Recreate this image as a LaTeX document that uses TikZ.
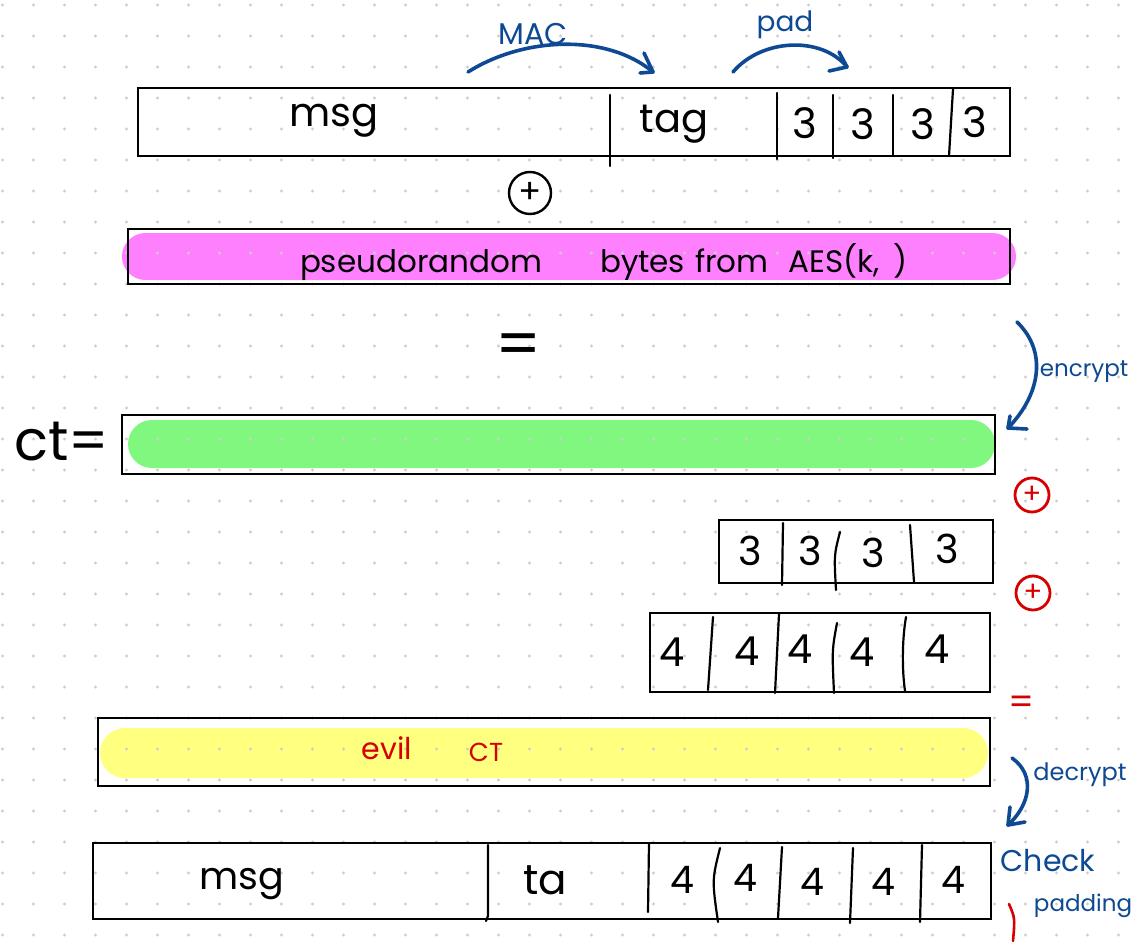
\documentclass[tikz,border=0pt]{standalone}
\usepackage{fontspec}
\setmainfont{Poppins}
\usetikzlibrary{arrows.meta}
\definecolor{pen}{RGB}{14,74,148}
\definecolor{redpen}{RGB}{214,0,0}
\definecolor{hlpink}{RGB}{255,128,255}
\definecolor{hlgreen}{RGB}{128,248,128}
\definecolor{hlyellow}{RGB}{255,255,128}
\definecolor{dotgray}{RGB}{205,205,205}
\newcommand{\fsz}[1]{\fontsize{#1}{#1}\selectfont}
\tikzset{
  frame/.style={draw=black, line width=2.2pt},
  divider/.style={black, line width=2.2pt, line cap=round},
  txt/.style={inner sep=0pt, anchor=center},
  bluepen/.style={pen, line width=3.6pt, line cap=round, line join=round},
  redstroke/.style={redpen, line width=2.6pt, line cap=round},
  xorsym/.style={draw, circle, line width=2.4pt, minimum size=42pt, inner sep=0pt, font=\fsz{34}},
  redxor/.style={draw=redpen, text=redpen, circle, line width=2.8pt, minimum size=34pt, inner sep=0pt, font=\fsz{28}},
}
\begin{document}
\begin{tikzpicture}[x=1pt,y=-1pt]
\useasboundingbox (0,0) rectangle (1135,942);
\fill[white] (0,0) rectangle (1135,942);

% highlighter strokes
\fill[hlpink, rounded corners=23.5pt] (122,233) rectangle (1016,280);
\fill[hlgreen, rounded corners=24pt] (128,420) rectangle (995,468);
\fill[hlyellow, rounded corners=25pt] (100,728) rectangle (988,778);

% dotted paper grid
\foreach \i in {0,...,36}
  \foreach \j in {0,...,30}
    \fill[dotgray] (2.5+31*\i, 5+31*\j) circle (1.6pt);

% ---- plaintext record: msg | tag | padding
\draw[frame] (138,88) rectangle (1010,156);
\draw[divider] (610,95) -- (610,166);
\draw[divider] (777,93) -- (777,159);
\draw[divider] (833,95) -- (833,158);
\draw[divider] (893,95) -- (893,155);
\draw[divider] (953,89) -- (949,156);
\node[txt, font=\fsz{40}] (msg) at (334,121) {msg};
\node[txt, font=\fsz{40}] (tag) at (674,124) {tag};
\node[txt, font=\fsz{42}] (p1) at (805,123) {3};
\node[txt, font=\fsz{42}] (p2) at (863,124) {3};
\node[txt, font=\fsz{42}] (p3) at (923,124) {3};
\node[txt, font=\fsz{42}] (p4) at (975,122) {3};

% MAC and pad arrows
\coordinate (macA) at (468,72);
\coordinate (macB) at (653,72);
\draw[bluepen] (macA) .. controls (525,36) and (608,34) .. (macB);
\draw[bluepen] (macB) -- ++(-9,-19);
\draw[bluepen] (macB) -- ++(-13,1);
\node[txt, pen, font=\fsz{30}] (maclbl) at (533,34) {MAC};
\coordinate (padA) at (733,72);
\coordinate (padB) at (847,67);
\draw[bluepen] (padA) .. controls (762,38) and (822,36) .. (padB);
\draw[bluepen] (padB) -- ++(-8,-15);
\draw[bluepen] (padB) -- ++(-18,4);
\node[txt, pen, font=\fsz{28}] (padlbl) at (785,25) {pad};

% xor
\node[xorsym] (xor1) at (530,193) {+};

% keystream
\draw[frame] (128,229) rectangle (1010,284);
\node[txt, font=\fsz{31}] (ks) at (604,262) {pseudorandom\hspace{58pt}bytes\hspace{10pt}from\hspace{20pt}AES(k,\hspace{14pt})};

% equals
\node[txt, font=\fsz{64}] (eq1) at (519,350) {=};

% ciphertext
\node[txt, font=\fsz{56}] (ctlbl) at (62,442) {ct=};
\draw[frame] (122,415) rectangle (995,474);

% encrypt bracket arrow
\coordinate (encA) at (1017,322);
\coordinate (encB) at (1008,428);
\draw[bluepen] (encA) .. controls (1048,352) and (1040,395) .. (encB);
\draw[bluepen] (encB) -- ++(2,-12);
\draw[bluepen] (encB) -- ++(19,1);
\node[txt, pen, font=\fsz{23}] (enclbl) at (1084,372) {encrypt};

% red xor operators
\node[redxor] (xor2) at (1032,495) {+};
\node[redxor] (xor3) at (1033,593) {+};

% 3 3 3 3 block
\draw[frame] (719,520) rectangle (993,583);
\draw[divider] (783,523) -- (782,585);
\draw[divider] (840,532) .. controls (834,555) .. (836,590);
\draw[divider] (910,525) -- (914,582);
\node[txt, font=\fsz{40}] (a1) at (750,551) {3};
\node[txt, font=\fsz{40}] (a2) at (810,551) {3};
\node[txt, font=\fsz{40}] (a3) at (873,553) {3};
\node[txt, font=\fsz{40}] (a4) at (947,549) {3};

% 4 4 4 4 4 block
\draw[frame] (650,613) rectangle (990,692);
\draw[divider] (713,617) -- (708,690);
\draw[divider] (779,614) -- (775,693);
\draw[divider] (837,623) .. controls (832,650) .. (834,693);
\draw[divider] (906,617) .. controls (902,640) and (902,670) .. (905,691);
\node[txt, font=\fsz{40}] (b1) at (672,652) {4};
\node[txt, font=\fsz{40}] (b2) at (747,651) {4};
\node[txt, font=\fsz{40}] (b3) at (800,649) {4};
\node[txt, font=\fsz{40}] (b4) at (862,652) {4};
\node[txt, font=\fsz{40}] (b5) at (937,649) {4};

% red equals
\node[txt, redpen, font=\fsz{36}] (eq2) at (1022,705) {=};

% evil ciphertext
\draw[frame] (98,718) rectangle (990,786);
\node[txt, redpen, font=\fsz{30}] (evil) at (387,748) {evil};
\node[txt, redpen, font=\fsz{26}] (evilct) at (486,752) {CT};

% decrypt bracket arrow
\coordinate (decA) at (1012,758);
\coordinate (decB) at (1008,825);
\draw[bluepen] (decA) .. controls (1036,775) and (1030,805) .. (decB);
\draw[bluepen] (decB) -- ++(2,-18);
\draw[bluepen] (decB) -- ++(17,-3);
\node[txt, pen, font=\fsz{24}] (declbl) at (1080,775) {decrypt};

% decrypted record
\draw[frame] (93,843) rectangle (991,919);
\draw[divider] (488,845) -- (488,916) -- (486,921);
\draw[divider] (649,843) -- (648,912);
\draw[divider] (720,848) .. controls (712,880) .. (718,922);
\draw[divider] (782,847) -- (778,918);
\draw[divider] (853,848) -- (850,923);
\draw[divider] (922,845) -- (920,922);
\node[txt, font=\fsz{38}] (msg2) at (242,884) {msg};
\node[txt, font=\fsz{42}] (ta) at (545,880) {ta};
\node[txt, font=\fsz{38}] (c1) at (682,880) {4};
\node[txt, font=\fsz{38}] (c2) at (745,878) {4};
\node[txt, font=\fsz{38}] (c3) at (812,882) {4};
\node[txt, font=\fsz{38}] (c4) at (883,882) {4};
\node[txt, font=\fsz{38}] (c5) at (953,880) {4};

% check padding note
\node[txt, pen, font=\fsz{30}] (chk) at (1048,861) {Check};
\node[txt, pen, font=\fsz{23}] (padd) at (1083,906) {padding};
\draw[redstroke] (1009,904) .. controls (1015,918) .. (1013,941);
\end{tikzpicture}
\end{document}
